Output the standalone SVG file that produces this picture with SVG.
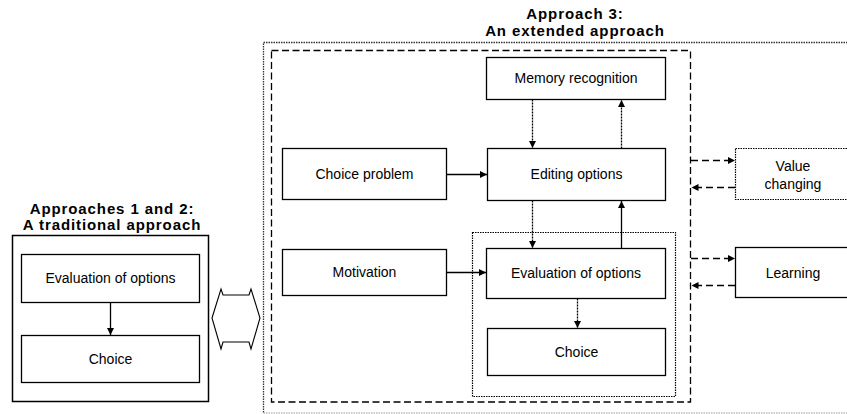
<svg xmlns="http://www.w3.org/2000/svg" width="847" height="414" viewBox="0 0 847 414">
<defs>
<style>
.box{fill:#fff;stroke:#000;stroke-width:1.3}
.dotbox{fill:#fff;stroke:#000;stroke-width:1.2;stroke-dasharray:1.5,1}
.t{font-family:"Liberation Sans",Arial,sans-serif;font-size:14px;fill:#000;text-anchor:middle}
.title{font-family:"Liberation Sans",Arial,sans-serif;font-size:15px;font-weight:bold;fill:#000;text-anchor:middle;letter-spacing:0.9px}
.solid{stroke:#000;stroke-width:1.3;fill:none}
.dotted{stroke:#000;stroke-width:1.3;fill:none;stroke-dasharray:2,1}
.dashed{stroke:#000;stroke-width:1.3;fill:none;stroke-dasharray:7,4}
</style>
<marker id="ah" viewBox="0 0 10 10" refX="10" refY="5" markerWidth="8" markerHeight="7" markerUnits="userSpaceOnUse" orient="auto">
<path d="M0,0 L10,5 L0,10 z" fill="#000"/>
</marker>
</defs>
<rect width="847" height="414" fill="#fff"/>

<g id="frames">
<path d="M870,42.5 H263.5 V413" fill="none" stroke="#333" stroke-width="1.3" stroke-dasharray="1.5,1"/>
<path d="M263.5,413 H870" fill="none" stroke="#999" stroke-width="1.2" stroke-dasharray="1.5,1"/>
<rect x="271.5" y="50.5" width="419" height="351.5" fill="none" stroke="#000" stroke-width="1.3" stroke-dasharray="7,3.5"/>
<rect x="472.5" y="232.5" width="203" height="164" fill="none" stroke="#000" stroke-width="1.2" stroke-dasharray="1.5,1"/>
<rect x="12.5" y="235.5" width="196" height="166" fill="none" stroke="#000" stroke-width="1.5"/>
</g>

<g id="titles">
<text class="title" x="112" y="214">Approaches 1 and 2:</text>
<text class="title" x="112" y="230">A traditional approach</text>
<text class="title" x="575" y="19">Approach 3:</text>
<text class="title" x="575" y="36">An extended approach</text>
</g>

<g id="n-eval-left"><rect class="box" x="21.5" y="254.5" width="178" height="48"/><text class="t" x="110.5" y="283">Evaluation of options</text></g>
<g id="n-choice-left"><rect class="box" x="21.5" y="335.5" width="178" height="47"/><text class="t" x="110.5" y="364">Choice</text></g>

<g id="n-double-arrow"><path d="M212,318 L221,289 L223,295 L249,295 L251,289 L260,318 L251,349 L249,342 L223,342 L221,349 Z" fill="#fff" stroke="#000" stroke-width="1.1"/></g>

<g id="n-memory"><rect class="box" x="486.5" y="57.5" width="179" height="42"/><text class="t" x="576" y="83">Memory recognition</text></g>
<g id="n-choice-problem"><rect class="box" x="282.5" y="148.5" width="164" height="51"/><text class="t" x="364.5" y="179">Choice problem</text></g>
<g id="n-editing"><rect class="box" x="487.5" y="148.5" width="178" height="52"/><text class="t" x="576.5" y="179">Editing options</text></g>
<g id="n-motivation"><rect class="box" x="282.5" y="249.5" width="164" height="46"/><text class="t" x="364.5" y="277">Motivation</text></g>
<g id="n-eval-right"><rect class="box" x="486.5" y="248.5" width="179" height="50"/><text class="t" x="576" y="278">Evaluation of options</text></g>
<g id="n-choice-right"><rect class="box" x="487.5" y="328.5" width="178" height="47"/><text class="t" x="576.5" y="357">Choice</text></g>
<g id="n-value"><rect class="dotbox" x="735.5" y="148.5" width="130" height="51"/><text class="t" x="793" y="171">Value</text><text class="t" x="793" y="189">changing</text></g>
<g id="n-learning"><rect class="box" x="735.5" y="247.5" width="130" height="50"/><text class="t" x="793" y="278">Learning</text></g>

<g id="connectors">
<line class="solid" x1="110.5" y1="302.5" x2="110.5" y2="335" marker-end="url(#ah)"/>
<line class="solid" x1="446.5" y1="174.5" x2="487" y2="174.5" marker-end="url(#ah)"/>
<line class="solid" x1="446.5" y1="272.5" x2="486" y2="272.5" marker-end="url(#ah)"/>
<line class="dotted" x1="532.5" y1="99.5" x2="532.5" y2="148" marker-end="url(#ah)"/>
<line class="dotted" x1="621.5" y1="148.5" x2="621.5" y2="100" marker-end="url(#ah)"/>
<line class="dotted" x1="532.5" y1="200.5" x2="532.5" y2="248" marker-end="url(#ah)"/>
<line class="solid" x1="621.5" y1="248.5" x2="621.5" y2="201" marker-end="url(#ah)"/>
<line class="dotted" x1="577.5" y1="298.5" x2="577.5" y2="328" marker-end="url(#ah)"/>
<line class="dashed" x1="691" y1="160.5" x2="735" y2="160.5" marker-end="url(#ah)"/>
<line class="dashed" x1="735" y1="187.5" x2="691.5" y2="187.5" marker-end="url(#ah)"/>
<line class="dashed" x1="691" y1="258.5" x2="735" y2="258.5" marker-end="url(#ah)"/>
<line class="dashed" x1="735" y1="285.5" x2="691.5" y2="285.5" marker-end="url(#ah)"/>
</g>
</svg>
